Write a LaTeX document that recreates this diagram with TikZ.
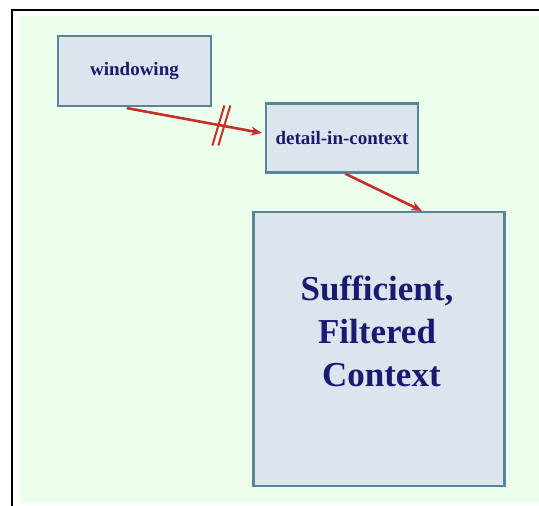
\documentclass[tikz,border=0pt]{standalone}
\usepackage{fontspec}
\setmainfont{Liberation Serif}
\usetikzlibrary{arrows.meta,calc}
\definecolor{bggreen}{RGB}{236,255,236}
\definecolor{boxfill}{RGB}{220,228,238}
\definecolor{boxedge}{RGB}{88,134,152}
\definecolor{navy}{RGB}{26,26,112}
\definecolor{arrred}{RGB}{196,48,40}
\begin{document}
\begin{tikzpicture}[x=1pt,y=-1pt,
  box/.style={draw=boxedge,fill=boxfill,line width=2.2pt,inner sep=0pt},
  lbl/.style={text=navy,font=\fontsize{19}{22}\selectfont\bfseries},
  conn/.style={draw=arrred,line width=2.6pt,-{Stealth[length=11pt,width=9pt]}},
  slash/.style={draw=arrred,line width=2pt}]
\useasboundingbox (0,0) rectangle (539,506);
\fill[bggreen] (20,16) rectangle (539,503);
\draw[line width=2.5pt] (12,506) -- (12,10) -- (539,10);
\node[box,minimum width=153pt,minimum height=70pt] (win) at (134.5,71) {};
\node[lbl] (wintxt) at (win.center) {windowing};
\node[box,minimum width=152pt,minimum height=69pt] (det) at (342,138) {};
\node[lbl] (dettxt) at (det.center) {detail-in-context};
\node[box,minimum width=251pt,minimum height=274pt] (big) at (379,349) {};
\node[text=navy,font=\fontsize{35}{43}\selectfont\bfseries,align=center] (bigtxt) at ($(big.center)+(-2,-18)$) {Sufficient,\\Filtered\\\ Context};
\draw[conn] ($(win.south west)!0.45!(win.south east)+(0,1)$) -- coordinate[pos=0.7] (m) ($(det.west)+(-3,-5)$);
\draw[slash] ($(m)+(-9,20)$) -- ($(m)+(3,-20)$);
\draw[slash] ($(m)+(-3,20)$) -- ($(m)+(9,-20)$);
\draw[conn] ($(det.south west)!0.52!(det.south east)$) -- ($(big.north west)!0.67!(big.north east)$);
\end{tikzpicture}
\end{document}
